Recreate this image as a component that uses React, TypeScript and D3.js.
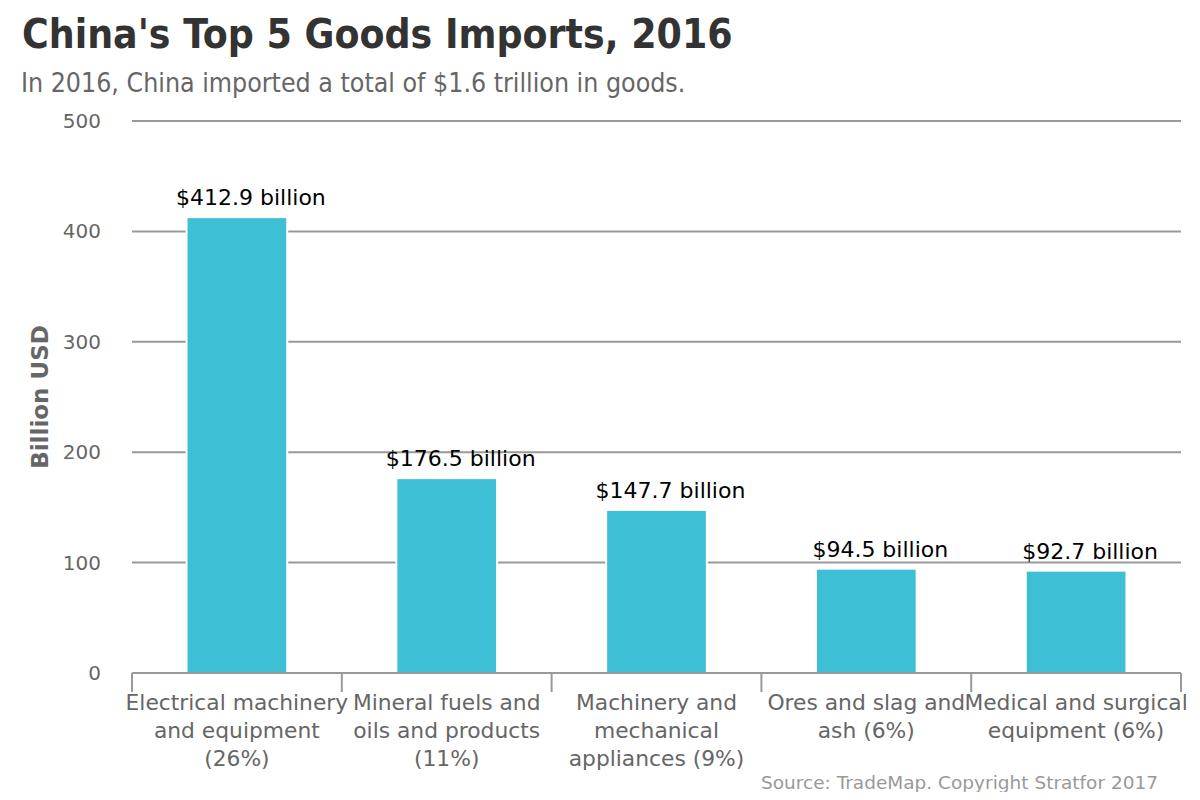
import { useEffect, useRef } from "react";
import * as d3 from "d3";

const categories = [
  ["Electrical machinery", "and equipment", "(26%)"],
  ["Mineral fuels and", "oils and products", "(11%)"],
  ["Machinery and", "mechanical", "appliances (9%)"],
  ["Ores and slag and", "ash (6%)"],
  ["Medical and surgical", "equipment (6%)"],
];
const values = [412.9, 176.5, 147.7, 94.5, 92.7];
const valueLabels = ["$412.9 billion", "$176.5 billion", "$147.7 billion", "$94.5 billion", "$92.7 billion"];
const yTicks = [0, 100, 200, 300, 400, 500];

const W = 1200;
const H = 800;
const FONT = "'DejaVu Sans', Verdana, sans-serif";
const COND = "'DejaVu Sans Condensed', 'DejaVu Sans', sans-serif";

const App = () => {
  const ref = useRef<SVGSVGElement>(null);

  useEffect(() => {
    const svg = d3.select(ref.current);
    svg.selectAll("*").remove();

    const margin = { left: 132, right: 19, top: 121, bottom: 127 };
    const x = d3
      .scaleBand()
      .domain(categories.map((c, i) => String(i)))
      .range([margin.left, W - margin.right])
      .paddingInner(0.52)
      .paddingOuter(0.26);
    const y = d3.scaleLinear().domain([0, 500]).range([H - margin.bottom, margin.top]);

    // title block
    svg.append("text").attr("x", 22).attr("y", 48)
      .style("font-family", COND).style("font-weight", "bold").style("font-size", "40.5px")
      .style("fill", "#333").text("China's Top 5 Goods Imports, 2016");
    svg.append("text").attr("x", 21).attr("y", 92)
      .style("font-family", COND).style("font-size", "26.5px")
      .style("fill", "#666").text("In 2016, China imported a total of $1.6 trillion in goods.");

    // gridlines
    const grid = svg.append("g");
    grid.selectAll("line").data(yTicks.filter((t) => t > 0)).enter().append("line")
      .attr("x1", margin.left).attr("x2", W - margin.right)
      .attr("y1", (d) => y(d)).attr("y2", (d) => y(d))
      .style("stroke", "#999").style("stroke-width", 2);

    grid.selectAll("text").data(yTicks).enter().append("text")
      .attr("x", 101).attr("y", (d) => y(d)).attr("dy", "0.35em")
      .attr("text-anchor", "end")
      .style("font-family", FONT).style("font-size", "20px").style("fill", "#666")
      .text((d) => d);

    svg.append("text")
      .attr("transform", `translate(48,${(y(0) + y(500)) / 2}) rotate(-90)`)
      .attr("text-anchor", "middle")
      .style("font-family", FONT).style("font-weight", "bold").style("font-size", "23px")
      .style("fill", "#666").text("Billion USD");

    // bars
    svg.append("g").selectAll("rect").data(values).enter().append("rect")
      .attr("x", (d, i) => x(String(i)))
      .attr("width", x.bandwidth())
      .attr("y", (d) => y(d))
      .attr("height", (d) => y(0) - y(d))
      .style("fill", "#3dbfd5")
      .style("stroke", "#fff").style("stroke-width", 2);

    // value labels sit a little right of the bar centre
    svg.append("g").selectAll("text").data(values).enter().append("text")
      .attr("x", (d, i) => x(String(i)) + x.bandwidth() / 2 + 14)
      .attr("y", (d) => y(d) - 12)
      .attr("text-anchor", "middle")
      .style("font-family", FONT).style("font-size", "22px").style("fill", "#000")
      .text((d, i) => valueLabels[i]);

    // x axis baseline and ticks
    const step = x.step();
    const axis = svg.append("g").style("stroke", "#999").style("stroke-width", 2);
    axis.append("line").attr("x1", margin.left).attr("x2", W - margin.right)
      .attr("y1", y(0)).attr("y2", y(0));
    axis.selectAll("line.tick").data(d3.range(categories.length + 1)).enter().append("line")
      .attr("class", "tick")
      .attr("x1", (d) => margin.left + d * step).attr("x2", (d) => margin.left + d * step)
      .attr("y1", y(0)).attr("y2", y(0) + 19);

    const labels = svg.append("g").selectAll("text").data(categories).enter().append("text")
      .attr("text-anchor", "middle")
      .style("font-family", FONT).style("font-size", "21.8px").style("fill", "#666");
    labels.each(function (lines, i) {
      const t = d3.select(this);
      lines.forEach((ln, j) => {
        t.append("tspan")
          .attr("x", x(String(i)) + x.bandwidth() / 2)
          .attr("y", 710 + j * 28)
          .text(ln);
      });
    });

    svg.append("text").attr("x", 1158).attr("y", 789).attr("text-anchor", "end")
      .style("font-family", FONT).style("font-size", "18.5px").style("fill", "#999")
      .text("Source: TradeMap. Copyright Stratfor 2017");
  }, []);

  return <svg ref={ref} width={W} height={H} style={{ display: "block", margin: -8 }} />;
};

export default App;
